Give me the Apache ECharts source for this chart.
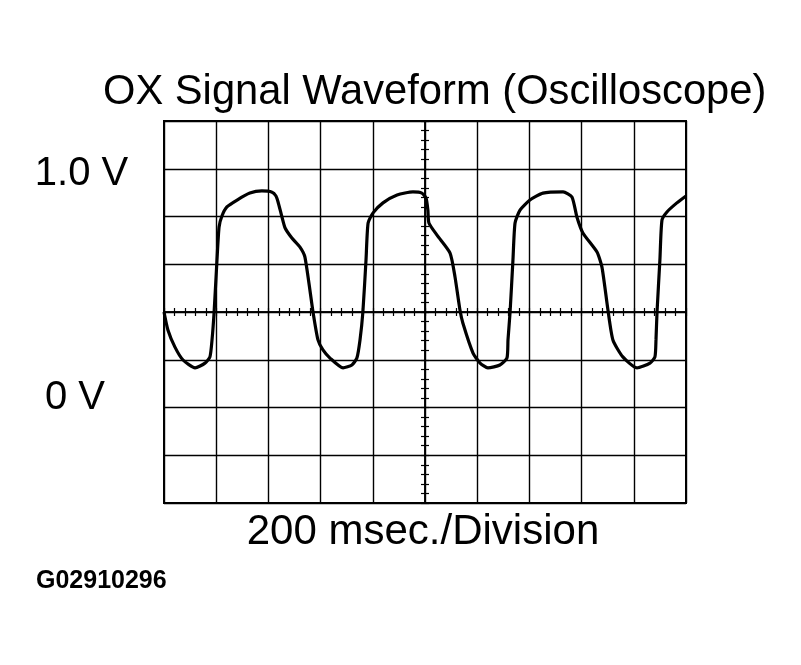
<!DOCTYPE html>
<html><head><meta charset="utf-8">
<script src="https://cdn.jsdelivr.net/npm/echarts@6/dist/echarts.min.js"></script>
<style>html,body{margin:0;padding:0;background:#fff}#c{width:801px;height:665px}</style>
</head><body><div id="c"></div>
<script>
// time in ms (200 ms / division), voltage in V (0.2 V / division)
var timeMs = [0,15,42,73,119,157,176,184,192,203,211,222,241,280,329,375,414,429,437,452,464,490,521,540,571,590,609,636,686,720,739,751,762,774,782,801,839,893,954,988,1004,1011,1015,1046,1096,1115,1134,1145,1184,1211,1241,1287,1314,1318,1326,1337,1345,1364,1402,1452,1529,1563,1582,1605,1659,1678,1701,1720,1758,1812,1862,1881,1885,1889,1900,1908,1927,1965,2000];
var volts = [0.400,0.325,0.253,0.199,0.166,0.186,0.212,0.283,0.400,0.618,0.756,0.802,0.840,0.869,0.898,0.907,0.902,0.886,0.861,0.798,0.752,0.710,0.672,0.630,0.400,0.283,0.241,0.207,0.166,0.178,0.207,0.283,0.400,0.618,0.773,0.815,0.857,0.890,0.903,0.898,0.877,0.827,0.773,0.722,0.647,0.547,0.408,0.354,0.228,0.186,0.166,0.178,0.207,0.283,0.400,0.618,0.773,0.827,0.869,0.898,0.903,0.882,0.798,0.731,0.651,0.588,0.408,0.283,0.212,0.166,0.186,0.212,0.283,0.400,0.618,0.785,0.819,0.857,0.886];
var titleText = 'OX Signal Waveform (Oscilloscope)';
var xAxisName = '200 msec./Division';
var yLabels = {'1.0': '1.0 V', '0.0': '0 V'};
var figureCode = 'G02910296';

var FONT = "'Liberation Sans', Arial, sans-serif";
var data = timeMs.map(function (t, i) { return [t, volts[i]]; });
var chart = echarts.init(document.getElementById('c'));
var centerAxisX = function (inside) {
  return {
    type: 'value', gridIndex: 0, min: 0, max: 2000, interval: 40,
    axisLine: { show: true, onZero: true, onZeroAxisIndex: 1, lineStyle: { color: '#000', width: 1.5 } },
    axisTick: { show: true, inside: inside, length: 4, lineStyle: { color: '#000', width: 1.2 } },
    axisLabel: { show: false }, splitLine: { show: false }
  };
};
var centerAxisY = function (inside) {
  return {
    type: 'value', gridIndex: 0, min: -0.4, max: 1.2, interval: 0.04,
    axisLine: { show: true, onZero: true, onZeroAxisIndex: 3, lineStyle: { color: '#000', width: 1.5 } },
    axisTick: { show: true, inside: inside, length: 4, lineStyle: { color: '#000', width: 1.2 } },
    axisLabel: { show: false }, splitLine: { show: false }
  };
};
chart.setOption({
  animation: false,
  backgroundColor: '#fff',
  title: {
    text: titleText, left: 98, top: 67,
    textStyle: { fontFamily: FONT, fontSize: 41.7, fontWeight: 'normal', color: '#000' }
  },
  grid: { left: 164, right: 115, top: 121, bottom: 162, show: true, borderColor: '#000', borderWidth: 2, backgroundColor: 'transparent' },
  xAxis: [
    {
      type: 'value', min: 0, max: 2000, interval: 200,
      name: xAxisName, nameLocation: 'middle', nameGap: 8,
      nameTextStyle: { fontFamily: FONT, fontSize: 42, color: '#000', verticalAlign: 'top', padding: [0, 4, 0, 0] },
      axisLine: { show: false, onZero: false }, axisTick: { show: false }, axisLabel: { show: false },
      splitLine: { show: true, lineStyle: { color: '#000', width: 1.4 } }
    },
    centerAxisX(true),
    centerAxisX(false),
    { type: 'value', min: -1000, max: 1000, show: false, axisLine: { onZero: false } }
  ],
  yAxis: [
    {
      type: 'value', min: -0.4, max: 1.2, interval: 0.2,
      axisLine: { show: false, onZero: false }, axisTick: { show: false },
      axisLabel: {
        show: true, margin: 86, align: 'center',
        formatter: function (v) {
          var k = v.toFixed(1);
          if (k === '1.0') return '{a|' + yLabels[k] + '}';
          if (k === '0.0') return '{b|' + yLabels[k] + '}';
          return '';
        },
        rich: {
          a: { fontFamily: FONT, fontSize: 40, color: '#000', padding: [10, 0, 0, 7] },
          b: { fontFamily: FONT, fontSize: 40, color: '#000', padding: [0, 6, 20, 0] }
        }
      },
      splitLine: { show: true, lineStyle: { color: '#000', width: 1.4 } }
    },
    { type: 'value', min: -4, max: 4, show: false, axisLine: { onZero: false } },
    centerAxisY(true),
    centerAxisY(false)
  ],
  graphic: [{
    type: 'text', left: 36, top: 569,
    style: { text: figureCode, fontFamily: FONT, fontSize: 25, fontWeight: 'bold', fill: '#000' }
  }],
  series: [{
    type: 'line', xAxisIndex: 0, yAxisIndex: 0, data: data,
    showSymbol: false, smooth: 0.2,
    lineStyle: { color: '#000', width: 3.2 }
  }]
});
</script></body></html>
